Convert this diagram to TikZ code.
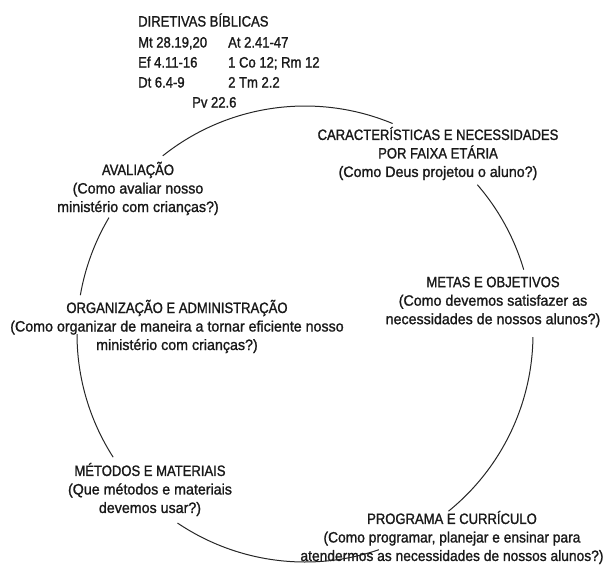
\documentclass[tikz,border=0pt]{standalone}
\usepackage{fontspec}
\setmainfont{Liberation Sans}
\newfontfamily\capf[FakeStretch=0.87,FakeBold=1.3]{Liberation Sans}
\newfontfamily\lowf[FakeStretch=0.95,FakeBold=1.3]{Liberation Sans}
\newfontfamily\lown[FakeStretch=0.92,FakeBold=1.3]{Liberation Sans}
\usetikzlibrary{calc}
\begin{document}
\begin{tikzpicture}[x=1pt,y=-1pt,
  lbl/.style={align=center, inner sep=0pt, font=\fontsize{15}{18.5}\selectfont, text=black!90},
  ref/.style={anchor=base west, inner sep=0pt, font=\capf\fontsize{15}{18}\selectfont, text=black!90},
  arcline/.style={line width=1pt, draw=black!85}]
\useasboundingbox (0,0) rectangle (603,566);
\coordinate (O) at (305,334);

% Biblical references
\node[ref] (dir) at (138,26.5) {DIRETIVAS BÍBLICAS};
\node[ref] (mt) at (138,47.5) {Mt 28.19,20};
\node[ref] (at) at (228,47.5) {At 2.41-47};
\node[ref] (ef) at (138,67.5) {Ef 4.11-16};
\node[ref] (co) at (228,67.5) {1 Co 12; Rm 12};
\node[ref] (dt) at (138,87.5) {Dt 6.4-9};
\node[ref] (tm) at (228,87.5) {2 Tm 2.2};
\node[ref] (pv) at (192,107.5) {Pv 22.6};

% Cycle stages
\node[lbl] (car) at (438,153.5) {{\capf CARACTERÍSTICAS E NECESSIDADES}\\{\capf POR FAIXA ETÁRIA}\\{\lowf (Como Deus projetou o aluno?)}};
\node[lbl] (met) at (493,302) {{\capf METAS E OBJETIVOS}\\{\lowf (Como devemos satisfazer as}\\{\lowf necessidades de nossos alunos?)}};
\node[lbl] (prg) at (452,537.5) {{\capf PROGRAMA E CURRÍCULO}\\{\lown (Como programar, planejar e ensinar para}\\{\lown atendermos as necessidades de nossos alunos?)}};
\node[lbl] (mto) at (150,489.5) {{\capf MÉTODOS E MATERIAIS}\\{\lowf (Que métodos e materiais}\\{\lowf devemos usar?)}};
\node[lbl] (org) at (177,326.5) {{\capf ORGANIZAÇÃO E ADMINISTRAÇÃO}\\{\lowf (Como organizar de maneira a tornar eficiente nosso}\\{\lowf ministério com crianças?)}};
\node[lbl] (ava) at (138,188.5) {{\capf AVALIAÇÃO}\\{\lowf (Como avaliar nosso}\\{\lowf ministério com crianças?)}};

% Arc end points on the circle
\coordinate (a1) at ($(O)+(-128.6:228)$);
\coordinate (b1) at ($(O)+(-40.9:228)$);
\coordinate (c1) at ($(O)+(0.8:228)$);
\coordinate (d1) at ($(O)+(71.1:228)$);
\coordinate (e1) at ($(O)+(147.3:228)$);
\coordinate (f1) at ($(O)+(189.8:228)$);

\draw[arcline] (a1) arc[start angle=-128.6, end angle=-67.4, radius=228]; % ava -> car
\draw[arcline] (b1) arc[start angle=-40.9, end angle=-16.4, radius=228];  % car -> met
\draw[arcline] (c1) arc[start angle=0.8, end angle=51, radius=228];       % met -> prg
\draw[arcline] (d1) arc[start angle=71.1, end angle=124, radius=228];     % prg -> mto
\draw[arcline] (e1) arc[start angle=147.3, end angle=180, radius=228];    % mto -> org
\draw[arcline] (f1) arc[start angle=189.8, end angle=210.7, radius=228];  % org -> ava
\end{tikzpicture}
\end{document}
